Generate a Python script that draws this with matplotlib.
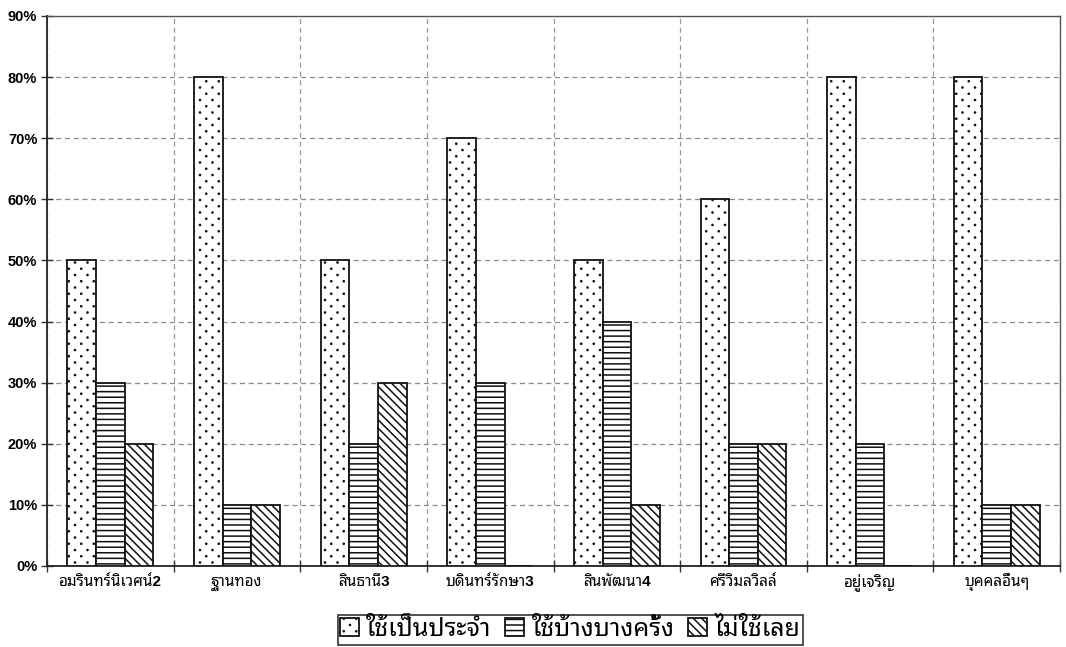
import matplotlib
matplotlib.use("Agg")
import matplotlib.pyplot as plt
import matplotlib.hatch as mhatch
from matplotlib.path import Path
import numpy as np
from matplotlib.ticker import FixedLocator, PercentFormatter

# Survey: how often each group uses the service
categories = ["อมรินทร์นิเวศน์2", "ฐานทอง", "สินธานี3", "บดินทร์รักษา3",
              "สินพัฒนา4", "ศรีวิมลวิลล์", "อยู่เจริญ", "บุคคลอื่นๆ"]
regular = [50, 80, 50, 70, 50, 60, 80, 80]     # ใช้เป็นประจำ
sometimes = [30, 10, 20, 30, 40, 20, 20, 10]   # ใช้บ้างบางครั้ง
never = [20, 10, 30, 0, 10, 20, 0, 10]         # ไม่ใช้เลย
series_labels = ["ใช้เป็นประจำ", "ใช้บ้างบางครั้ง", "ไม่ใช้เลย"]
y_ticks = [0, 10, 20, 30, 40, 50, 60, 70, 80, 90]


class SparseDots(mhatch.HatchPatternBase):
    """Staggered dot texture: rows 1/16 in apart, dots 1/8 in apart within a row."""
    filled = True
    rows = 16
    radius = 0.0055

    def __init__(self, hatch, density):
        circ = Path.unit_circle()
        self.shape_vertices = circ.vertices
        self.shape_codes = circ.codes
        if hatch.count('.'):
            n_even = self.rows // 2 + 1
            n_odd = self.rows // 2
            self.num_shapes = n_even * (self.rows // 2 + 1) + n_odd * (self.rows // 2)
        else:
            self.num_shapes = 0
        self.num_vertices = self.num_shapes * len(self.shape_vertices)

    def set_vertices_and_codes(self, vertices, codes):
        step = 1.0 / self.rows
        shape = self.shape_vertices * self.radius
        vparts, cparts = [], []
        for row in range(self.rows + 1):
            if row % 2 == 0:
                cols = np.linspace(0, 1, self.rows // 2 + 1)
            else:
                cols = np.linspace(step, 1 - step, self.rows // 2)
            for c in cols:
                vparts.append(shape + [c, row * step])
                cparts.append(self.shape_codes)
        np.concatenate(vparts, out=vertices)
        np.concatenate(cparts, out=codes)


mhatch._hatch_types = [SparseDots if t is mhatch.SmallFilledCircles else t
                       for t in mhatch._hatch_types]

FONT = ["Liberation Sans", "Noto Sans Thai Looped", "DejaVu Sans"]
plt.rcParams["font.family"] = FONT
plt.rcParams["hatch.linewidth"] = 1.1
plt.rcParams["hatch.color"] = "#111111"

fig = plt.figure(figsize=(10.66, 6.47), dpi=100)
ax = fig.add_axes([0.0441, 0.1252, 0.9503, 0.8501])

x = np.arange(len(categories))
w = 0.226
hatches = [".", "---", "\\\\\\\\"]
for k, (vals, h) in enumerate(zip([regular, sometimes, never], hatches)):
    ax.bar(x + (k - 1) * w, vals, width=w, facecolor="white", edgecolor="#111111",
           linewidth=1.3, hatch=h, label=series_labels[k], zorder=3)

ax.set_xlim(-0.5, len(categories) - 0.5)
ax.set_ylim(0, 90)
ax.yaxis.set_major_locator(FixedLocator(y_ticks))
ax.yaxis.set_major_formatter(PercentFormatter(decimals=0))

# Category labels at the centres, tick marks and vertical grid at group boundaries
ax.set_xticks(x)
ax.set_xticklabels(categories, fontsize=11, fontweight="bold", va="baseline")
ax.tick_params(axis="x", which="major", length=0, pad=14.5)
ax.set_xticks(np.arange(len(categories) + 1) - 0.5, minor=True)
ax.tick_params(axis="x", which="minor", direction="inout", length=8, width=1, color="#333333")
ax.tick_params(axis="y", which="major", direction="inout", length=8, width=1,
               color="#333333", labelsize=10.5, pad=3)
for lab in ax.get_yticklabels():
    lab.set_fontweight("bold")

ax.grid(True, axis="y", which="major", linestyle=(0, (4, 3)), color="#8a8a8a", linewidth=0.9, zorder=0)
ax.grid(True, axis="x", which="minor", linestyle=(0, (4, 3)), color="#9a9a9a", linewidth=0.9, zorder=0)
ax.grid(False, axis="x", which="major")

for side in ["left", "bottom"]:
    ax.spines[side].set_color("#222222")
    ax.spines[side].set_linewidth(1.3)
for side in ["top", "right"]:
    ax.spines[side].set_color("#555555")
    ax.spines[side].set_linewidth(1.0)

leg = fig.legend(loc="lower center", bbox_to_anchor=(0.535, 0.0), ncol=3,
                 prop={"family": ["Noto Sans Thai Looped", "DejaVu Sans"], "size": 18},
                 frameon=True, fancybox=False, edgecolor="black",
                 handlelength=0.75, handleheight=0.75, handletextpad=0.3,
                 columnspacing=0.55, borderpad=0.1, borderaxespad=0.1)
leg.get_frame().set_linewidth(1.2)

fig.savefig("out.png", dpi=100, facecolor="white")
